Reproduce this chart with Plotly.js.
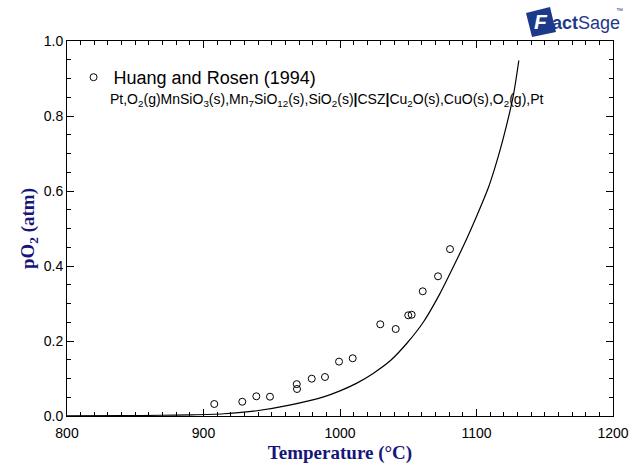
<!DOCTYPE html>
<html>
<head>
<meta charset="utf-8">
<script src="https://cdn.plot.ly/plotly-3.0.1.min.js"></script>
<style>html,body{margin:0;padding:0;background:#fff;}#chart{width:643px;height:468px;}</style>
</head>
<body>
<div id="chart"></div>
<script>
// Experimental data: Huang and Rosen (1994)
const expT = [907.9, 928.4, 938.7, 948.7, 968.3, 968.5, 979.3, 989.0, 999.3, 1009.3, 1029.5, 1040.8, 1050.0, 1052.5, 1060.6, 1071.8, 1080.6];
const expP = [0.032, 0.038, 0.0525, 0.0515, 0.085, 0.072, 0.0995, 0.104, 0.145, 0.154, 0.2445, 0.232, 0.2685, 0.270, 0.3325, 0.3725, 0.445];

// Calculated curve (FactSage)
const calcT = [800, 840, 870, 890, 915, 939, 963, 988, 1000, 1012, 1024, 1037, 1049, 1061, 1073, 1086, 1093, 1100, 1109, 1116, 1122, 1127, 1131];
const calcP = [0.0005, 0.001, 0.002, 0.003, 0.006, 0.014, 0.029, 0.051, 0.067, 0.087, 0.113, 0.148, 0.194, 0.25, 0.325, 0.42, 0.474, 0.532, 0.612, 0.693, 0.775, 0.855, 0.948];

const xTickVals = [800, 900, 1000, 1100, 1200];
const yTickVals = [0, 0.2, 0.4, 0.6, 0.8, 1.0];

const legendName = 'Huang and Rosen (1994)';
const cellText = 'Pt,O<sub>2</sub>(g)MnSiO<sub>3</sub>(s),Mn<sub>7</sub>SiO<sub>12</sub>(s),SiO<sub>2</sub>(s)<b>|</b>CSZ<b>|</b>Cu<sub>2</sub>O(s),CuO(s),O<sub>2</sub>(g),Pt';

const navy = '#16167a';
const axisCommon = {
  showline: true, linecolor: '#000', linewidth: 1, mirror: 'allticks',
  ticks: 'inside', ticklen: 7, tickwidth: 1, tickcolor: '#000',
  showgrid: false, zeroline: false,
  tickfont: {family: 'Liberation Sans, Arial, sans-serif', size: 14, color: '#000'}
};

const traces = [
  {x: calcT, y: calcP, mode: 'lines', line: {color: '#000', width: 1.2, shape: 'spline', smoothing: 0.8}, showlegend: false, hoverinfo: 'skip'},
  {x: expT, y: expP, mode: 'markers', name: legendName,
   marker: {symbol: 'circle-open', size: 7, color: '#000', line: {width: 1, color: '#000'}}}
];

const layout = {
  width: 643, height: 468,
  margin: {l: 67, r: 30, t: 41, b: 52},
  paper_bgcolor: '#fff', plot_bgcolor: '#fff',
  xaxis: Object.assign({}, axisCommon, {
    range: [800, 1200], tickvals: xTickVals, ticktext: xTickVals.map(String),
    ticklabelstandoff: 4,
    minor: {dtick: 10, tick0: 800, ticks: 'inside', ticklen: 4, tickcolor: '#000', showgrid: false},
    title: {text: '<b>Temperature (°C)</b>', font: {family: 'Liberation Serif, Times New Roman, serif', size: 19, color: navy}, standoff: 5}
  }),
  yaxis: Object.assign({}, axisCommon, {
    range: [0, 1.0], tickvals: yTickVals, ticktext: yTickVals.map(v => v.toFixed(1)),
    minor: {dtick: 0.05, tick0: 0, ticks: 'inside', ticklen: 4, tickcolor: '#000', showgrid: false},
    title: {text: '<b>pO<sub>2</sub> (atm)</b>', font: {family: 'Liberation Serif, Times New Roman, serif', size: 19, color: navy}, standoff: 4}
  }),
  showlegend: true,
  legend: {x: 0.012, y: 0.952, xanchor: 'left', yanchor: 'top', bgcolor: 'rgba(0,0,0,0)',
    font: {family: 'Liberation Sans, Arial, sans-serif', size: 18, color: '#000'}, itemwidth: 30},
  annotations: [
    {xref: 'paper', yref: 'paper', x: 0.075, y: 0.842, xanchor: 'left', yanchor: 'middle', showarrow: false,
     text: cellText, font: {family: 'Liberation Sans, Arial, sans-serif', size: 14, color: '#000'}},
    {xref: 'paper', yref: 'paper', x: (541 - 67) / 546, y: (416 - 21) / 375, xanchor: 'center', yanchor: 'middle', showarrow: false,
     text: '<b><i>F</i></b>', font: {family: 'Liberation Sans, Arial, sans-serif', size: 21, color: '#fff'}},
    {xref: 'paper', yref: 'paper', x: (550 - 67) / 546, y: (416 - 23) / 375, xanchor: 'left', yanchor: 'middle', showarrow: false,
     text: '<b>act</b>Sage', font: {family: 'Liberation Sans, Arial, sans-serif', size: 18, color: '#1d3a8a'}},
    {xref: 'paper', yref: 'paper', x: (614 - 67) / 546, y: (416 - 10) / 375, xanchor: 'left', yanchor: 'middle', showarrow: false,
     text: '™', font: {family: 'Liberation Sans, Arial, sans-serif', size: 7, color: '#1d3a8a'}}
  ],
  shapes: [
    {type: 'path', xref: 'paper', yref: 'paper', fillcolor: '#1d3a8a', line: {width: 0},
     path: 'M ' + ((526 - 67) / 546) + ' ' + ((416 - 13) / 375) +
           ' L ' + ((550 - 67) / 546) + ' ' + ((416 - 7) / 375) +
           ' L ' + ((556 - 67) / 546) + ' ' + ((416 - 32) / 375) +
           ' L ' + ((532 - 67) / 546) + ' ' + ((416 - 37) / 375) + ' Z'}
  ]
};

Plotly.newPlot('chart', traces, layout, {displayModeBar: false, staticPlot: true});
</script>
</body>
</html>
